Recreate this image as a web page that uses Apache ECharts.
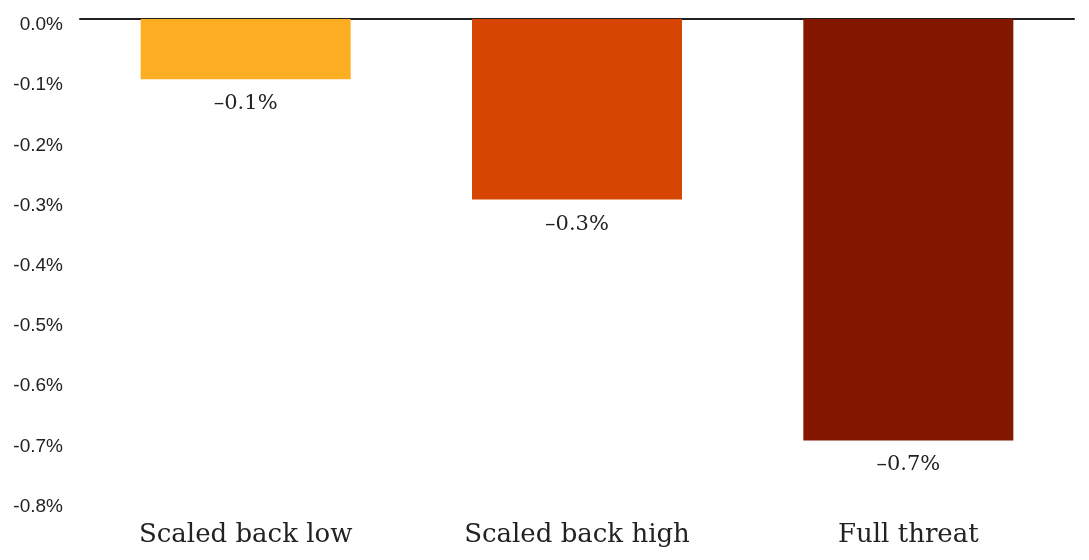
<!DOCTYPE html>
<html><head><meta charset="utf-8">
<script src="https://cdn.jsdelivr.net/npm/echarts@6/dist/echarts.min.js"></script>
<style>html,body{margin:0;padding:0;background:#fff}#c{width:1089px;height:560px}</style>
</head><body><div id="c"></div>
<script>
const categories = ['Scaled back low', 'Scaled back high', 'Full threat'];
const values = [-0.1, -0.3, -0.7];
const colors = ['#FDAD21', '#D64501', '#841700'];
const yTicks = {min: -0.8, max: 0, interval: 0.1};

const chart = echarts.init(document.getElementById('c'));
chart.setOption({
  animation: false,
  grid: {left: 80, right: 15, top: 19, bottom: 59.4},
  xAxis: [{
    type: 'category', data: categories, position: 'bottom',
    axisLine: {show: false}, axisTick: {show: false},
    axisLabel: {fontFamily: 'DejaVu Serif', fontSize: 26, color: '#222', margin: 22}
  }, {
    type: 'category', data: categories, position: 'top',
    axisLine: {show: true, lineStyle: {color: '#231f20', width: 2}},
    axisTick: {show: false}, axisLabel: {show: false}
  }],
  yAxis: {
    type: 'value', min: yTicks.min, max: yTicks.max, interval: yTicks.interval,
    axisLine: {show: false}, axisTick: {show: false}, splitLine: {show: false},
    axisLabel: {
      fontFamily: 'Liberation Sans', fontSize: 19, color: '#222', margin: 17,
      lineHeight: 12,
      formatter: v => '\n' + (Math.abs(v) < 1e-9 ? 0 : v).toFixed(1) + '%'
    }
  },
  series: [{
    type: 'bar', barWidth: 210,
    data: values.map((v, i) => ({value: v, itemStyle: {color: colors[i]}})),
    label: {
      show: true, position: 'bottom', distance: 14,
      fontFamily: 'DejaVu Serif', fontSize: 21, color: '#222',
      formatter: p => '\u2013' + Math.abs(p.value).toFixed(1) + '%'
    }
  }]
});
</script></body></html>
